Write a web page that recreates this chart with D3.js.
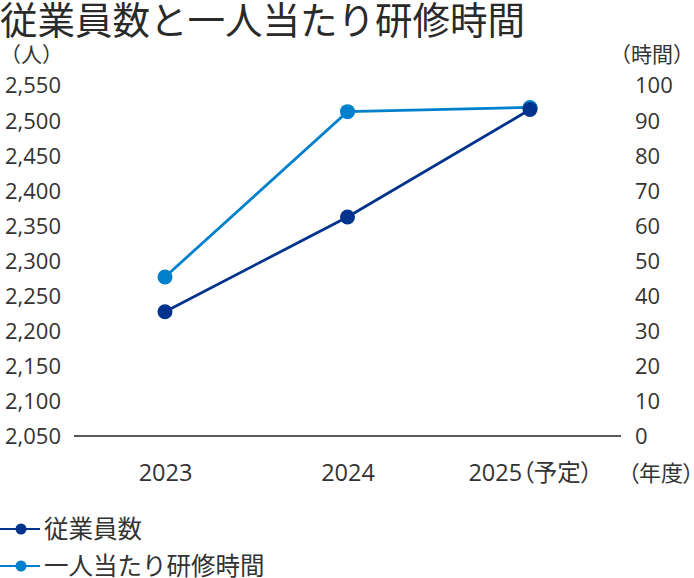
<!DOCTYPE html>
<html>
<head>
<meta charset="utf-8">
<script src="https://cdn.jsdelivr.net/npm/d3@7"></script>
<style>
  body { margin: 0; background: #fff; }
  svg text { font-family: "Open Sans", "Noto Sans CJK JP", sans-serif; fill: #333; }
</style>
</head>
<body>
<div id="chart"></div>
<script>
/* Data */
const years = ["2023", "2024", "2025"]
const yearLabels = ["2023", "2024", "2025（予定）"]
const employees = [2227, 2362, 2515]
const trainingHours = [45.3, 92.4, 93.6]
const leftTicks = [2050, 2100, 2150, 2200, 2250, 2300, 2350, 2400, 2450, 2500, 2550]
const rightTicks = [0, 10, 20, 30, 40, 50, 60, 70, 80, 90, 100]
const seriesNames = ["従業員数", "一人当たり研修時間"]
/* End Data */

const width = 694
const height = 578
const darkBlue = "#00338d"
const lightBlue = "#0080cc"

const svg = d3.select("#chart").append("svg")
    .attr("width", width)
    .attr("height", height)

const x = d3.scalePoint()
    .domain(years)
    .range([165, 530])

const yLeft = d3.scaleLinear()
    .domain([2050, 2550])
    .range([436, 85])

const yRight = d3.scaleLinear()
    .domain([0, 100])
    .range([436, 85])

// title
svg.append("text")
    .attr("x", 0)
    .attr("y", 34)
    .style("font-family", "'Noto Sans CJK JP', sans-serif")
    .style("font-size", "37.5px")
    .style("fill", "#2a2a2a")
    .text("従業員数と一人当たり研修時間")

// unit labels
svg.append("text")
    .attr("x", 0)
    .attr("y", 62)
    .style("font-size", "21px")
    .text("（人）")

svg.append("text")
    .attr("x", 694)
    .attr("y", 62)
    .attr("text-anchor", "end")
    .style("font-size", "21px")
    .text("（時間）")

// left axis
const leftAxis = d3.axisLeft(yLeft)
    .tickValues(leftTicks)
    .tickSize(0)
    .tickPadding(0)
    .tickFormat(d3.format(","))

const gLeft = svg.append("g")
    .attr("transform", "translate(61,0)")
    .call(leftAxis)
gLeft.select(".domain").remove()
gLeft.selectAll("text")
    .attr("x", 0)
    .attr("dy", "0.36em")
    .style("font-size", "22px")

// right axis
const rightAxis = d3.axisRight(yRight)
    .tickValues(rightTicks)
    .tickSize(0)
    .tickPadding(0)

const gRight = svg.append("g")
    .attr("transform", "translate(635,0)")
    .call(rightAxis)
gRight.select(".domain").remove()
gRight.selectAll("text")
    .attr("x", 0)
    .attr("dy", "0.36em")
    .style("font-size", "22px")

// baseline
svg.append("line")
    .attr("x1", 74)
    .attr("x2", 621)
    .attr("y1", yLeft(2050))
    .attr("y2", yLeft(2050))
    .attr("stroke", "#222")
    .attr("stroke-width", 1.3)

// x axis labels
const bottomAxis = d3.axisBottom(x)
    .tickSize(0)
    .tickPadding(0)
    .tickFormat((d, i) => yearLabels[i])

const gBottom = svg.append("g")
    .attr("transform", "translate(0,473)")
    .call(bottomAxis)
gBottom.select(".domain").remove()
gBottom.selectAll("text")
    .attr("y", 0)
    .attr("dy", "0.36em")
    .style("font-size", "23.5px")
    .style("font-feature-settings", "'palt'")

svg.append("text")
    .attr("x", 694)
    .attr("y", 473)
    .attr("dy", "0.36em")
    .attr("text-anchor", "end")
    .style("font-size", "22px")
    .style("font-feature-settings", "'palt'")
    .text("（年度）")

// series
const drawSeries = (values, yScale, color) => {
  const line = d3.line()
      .x((d, i) => x(years[i]))
      .y(d => yScale(d))

  svg.append("path")
      .datum(values)
      .attr("d", line)
      .attr("fill", "none")
      .attr("stroke", color)
      .attr("stroke-width", 2.8)

  svg.append("g")
      .selectAll("circle")
      .data(values)
      .join("circle")
      .attr("cx", (d, i) => x(years[i]))
      .attr("cy", d => yScale(d))
      .attr("r", 7.5)
      .attr("fill", color)
}

drawSeries(trainingHours, yRight, lightBlue)
drawSeries(employees, yLeft, darkBlue)

// legend
const legendColors = [darkBlue, lightBlue]
const legend = svg.append("g")
    .selectAll("g")
    .data(seriesNames)
    .join("g")
    .attr("transform", (d, i) => `translate(0,${529 + i * 37})`)

legend.append("line")
    .attr("x1", 0)
    .attr("x2", 40)
    .attr("stroke", (d, i) => legendColors[i])
    .attr("stroke-width", 2.2)

legend.append("circle")
    .attr("cx", 21)
    .attr("r", 5.5)
    .attr("fill", (d, i) => legendColors[i])

legend.append("text")
    .attr("x", 44)
    .attr("dy", "0.36em")
    .style("font-family", "'Noto Sans CJK JP', sans-serif")
    .style("font-size", "24.5px")
    .text(d => d)
</script>
</body>
</html>
